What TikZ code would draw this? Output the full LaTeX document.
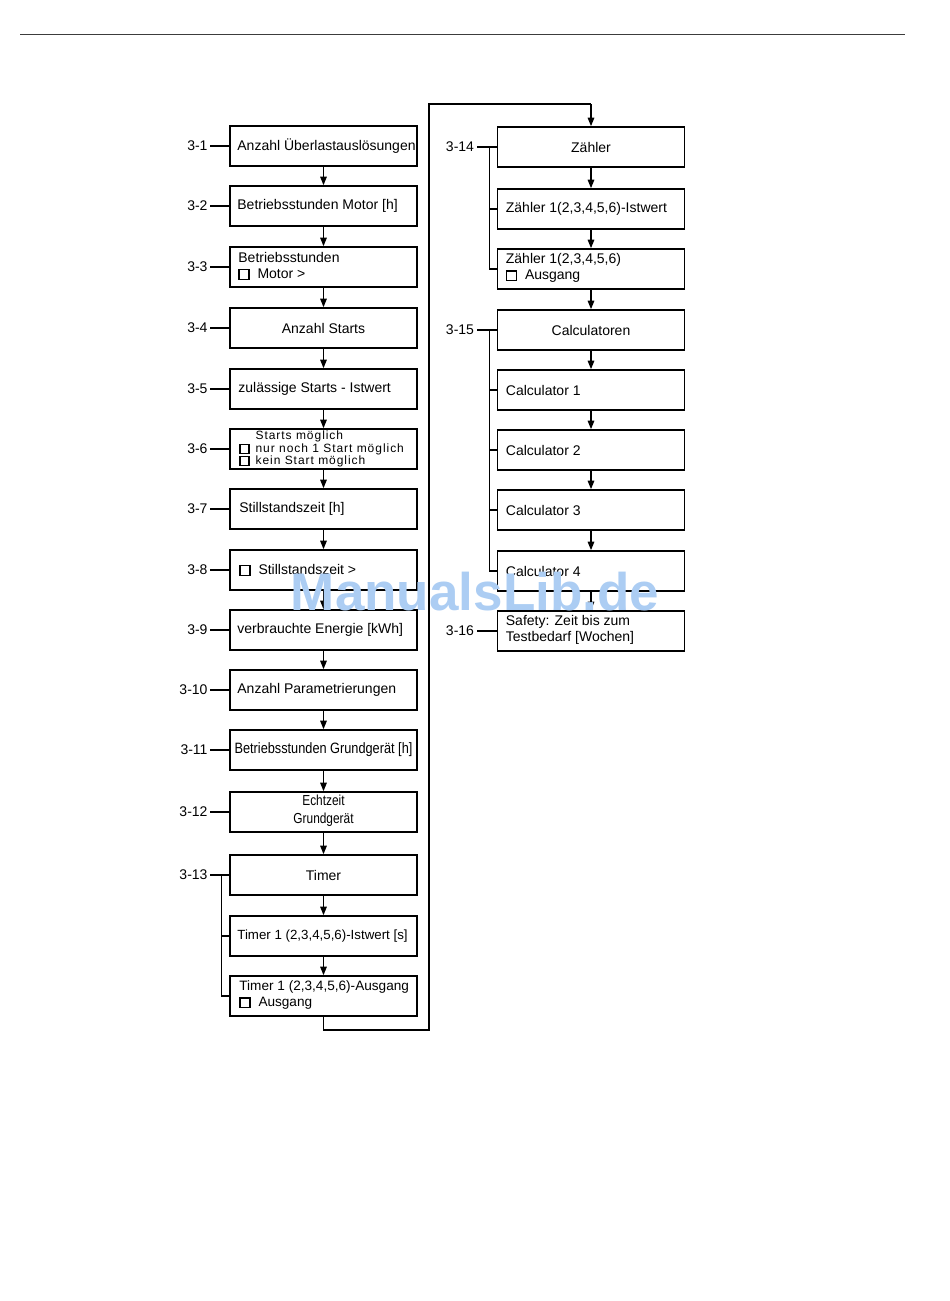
\documentclass[tikz,border=0pt]{standalone}
\usepackage{fontspec}
\setmainfont{Liberation Sans}
\newfontfamily\spacedfont[LetterSpace=8]{Liberation Sans}
\usetikzlibrary{arrows.meta}
\definecolor{wmblue}{RGB}{172,205,243}
\definecolor{rulegray}{RGB}{60,60,60}
\newcommand{\cbx}{\raisebox{-0.5pt}{\setlength{\fboxsep}{0pt}\setlength{\fboxrule}{1.3pt}\fbox{\rule{0pt}{8.5pt}\hspace{8.5pt}}}}
\newcommand{\scbx}{\raisebox{-0.5pt}{\setlength{\fboxsep}{0pt}\setlength{\fboxrule}{1.2pt}\fbox{\rule{0pt}{7.8pt}\hspace{7.8pt}}}}
\begin{document}
\begin{tikzpicture}[x=1pt,y=-1pt,
  box/.style={draw, line width=1.6pt, minimum width=187pt, minimum height=40pt, inner sep=0pt},
  txt/.style={inner sep=0pt, anchor=west, align=left, font=\fontsize{14}{16}\selectfont},
  ctxt/.style={inner sep=0pt, align=center, font=\fontsize{14}{16}\selectfont},
  lab/.style={inner sep=0pt, anchor=east, font=\fontsize{14}{16}\selectfont},
  conn/.style={line width=1.4pt},
  arr/.style={conn, -{Triangle[length=8.5pt,width=6.5pt]}}]
\useasboundingbox (0,0) rectangle (950,1301);
\draw[rulegray, line width=1pt] (20,34) coordinate (r0) -- (905,34) coordinate (r1);

% left column boxes
\foreach \n/\y in {b1/146,b2/206,b3/267,b4/328,b5/389,b6/449,b7/509,b8/570,b9/630,b10/690,b11/750,b12/812,b13/875,b13a/936,b13b/996}
  \node[box] (\n) at (323.5,\y) {};
% right column boxes
\foreach \n/\y in {c14/147,c14a/209,c14b/269,c15/330,c15a/390,c15b/450,c15c/510,c15d/571,c16/631}
  \node[box] (\n) at (591,\y) {};

% left texts
\node[txt] (t1) at ([xshift=8pt]b1.west) {Anzahl Überlastauslösungen};
\node[txt] (t2) at ([xshift=8pt]b2.west) {Betriebsstunden Motor [h]};
\node[txt] (t3) at ([xshift=9pt,yshift=1pt]b3.west) {Betriebsstunden\\\cbx\hspace{8pt}Motor >};
\node[ctxt] (t4) at (b4.center) {Anzahl Starts};
\node[txt] (t5) at ([xshift=9pt]b5.west) {zulässige Starts - Istwert};
\node[txt, font=\spacedfont\fontsize{12}{12.4}\selectfont] (t6) at ([xshift=10pt]b6.west)
  {\phantom{\scbx}\hspace{6pt}Starts möglich\\\scbx\hspace{6pt}nur noch 1 Start möglich\\\scbx\hspace{6pt}kein Start möglich};
\node[txt] (t7) at ([xshift=10pt]b7.west) {Stillstandszeit [h]};
\node[txt] (t8) at ([xshift=10pt]b8.west) {\cbx\hspace{8pt}Stillstandszeit >};
\node[txt] (t9) at ([xshift=8pt]b9.west) {verbrauchte Energie [kWh]};
\node[txt] (t10) at ([xshift=8pt]b10.west) {Anzahl Parametrierungen};
\node[ctxt] (t11) at (b11.center) {\scalebox{0.85}[1]{\fontsize{15}{16}\selectfont Betriebsstunden Grundgerät [h]}};
\node[ctxt, font=\fontsize{14.5}{18}\selectfont] (t12) at ([yshift=1pt]b12.center) {\scalebox{0.82}[1]{Echtzeit}\\\scalebox{0.82}[1]{Grundgerät}};
\node[ctxt] (t13) at (b13.center) {Timer};
\node[txt, font=\fontsize{13.3}{16}\selectfont] (t13a) at ([xshift=8pt]b13a.west) {Timer 1 (2,3,4,5,6)-Istwert [s]};
\node[txt, font=\fontsize{13.6}{16}\selectfont] (t13b) at ([xshift=10pt,yshift=1pt]b13b.west) {Timer 1 (2,3,4,5,6)-Ausgang\\\cbx\hspace{8pt}Ausgang};

% right texts
\node[ctxt] (u14) at (c14.center) {Zähler};
\node[txt] (u14a) at ([xshift=9pt]c14a.west) {Zähler 1(2,3,4,5,6)-Istwert};
\node[txt] (u14b) at ([xshift=9pt,yshift=1pt]c14b.west) {Zähler 1(2,3,4,5,6)\\\cbx\hspace{8pt}Ausgang};
\node[ctxt] (u15) at (c15.center) {Calculatoren};
\node[txt] (u15a) at ([xshift=9pt]c15a.west) {Calculator 1};
\node[txt] (u15b) at ([xshift=9pt]c15b.west) {Calculator 2};
\node[txt] (u15c) at ([xshift=9pt]c15c.west) {Calculator 3};
\node[txt] (u15d) at ([xshift=9pt]c15d.west) {Calculator 4};
\node[txt] (u16) at ([xshift=9pt,yshift=1pt]c16.west) {Safety: Zeit bis zum\\Testbedarf [Wochen]};

% arrows
\foreach \a/\b in {b1/b2,b2/b3,b3/b4,b4/b5,b5/b6,b6/b7,b7/b8,b8/b9,b9/b10,b10/b11,b11/b12,b12/b13,b13/b13a,b13a/b13b,
  c14/c14a,c14a/c14b,c14b/c15,c15/c15a,c15a/c15b,c15b/c15c,c15c/c15d,c15d/c16}
  \draw[arr] (\a.south) -- (\b.north);

% return connector
\coordinate (p1) at (323.5,1030);
\coordinate (p2) at (429,1030);
\coordinate (p3) at (429,104);
\coordinate (p4) at (591,104);
\draw[conn, line width=1.6pt] (b13b.south) -- (p1) -- (p2) -- (p3) -- (p4);
\draw[arr] (p4) -- (c14.north);

% labels left
\foreach \n/\t in {b1/3-1,b2/3-2,b3/3-3,b4/3-4,b5/3-5,b6/3-6,b7/3-7,b8/3-8,b9/3-9,b10/3-10,b11/3-11,b12/3-12,b13/3-13}{
  \node[lab] (l\n) at ([xshift=-21.5pt]\n.west) {\t};
  \draw[conn] (l\n.east) ++(2.5,0) -- (\n.west);
}
% bracket 3-13
\coordinate (k13) at ([xshift=-8pt]b13.west);
\draw[conn] (k13) |- (b13b.west);
\draw[conn] (k13 |- b13a.west) -- (b13a.west);

% labels right
\foreach \n/\t in {c14/3-14,c15/3-15,c16/3-16}{
  \node[lab] (l\n) at ([xshift=-22.5pt]\n.west) {\t};
  \draw[conn] (l\n.east) ++(3,0) -- (\n.west);
}
\coordinate (k14) at ([xshift=-7pt]c14.west);
\draw[conn] (k14) |- (c14b.west);
\draw[conn] (k14 |- c14a.west) -- (c14a.west);
\coordinate (k15) at ([xshift=-7pt]c15.west);
\draw[conn] (k15) |- (c15d.west);
\foreach \n in {c15a,c15b,c15c}
  \draw[conn] (k15 |- \n.west) -- (\n.west);

% watermark
\node[text=wmblue, font=\bfseries\fontsize{53}{56}\selectfont, inner sep=0pt, anchor=base] (wm) at (475,610) {ManualsLib.de};
\end{tikzpicture}
\end{document}
